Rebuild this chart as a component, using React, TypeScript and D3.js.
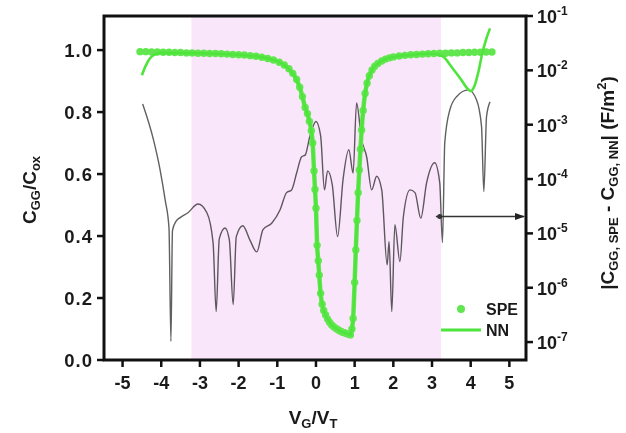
import React, { useRef, useEffect } from 'react'
import * as d3 from 'd3'

// SPE (simulated) gate capacitance, normalised
const speVg = [-4.55, -4.4, -4.25, -4.1, -3.95, -3.8, -3.65, -3.5, -3.35, -3.2, -3.05, -2.9, -2.75, -2.6, -2.45, -2.3, -2.15, -2.0, -1.85, -1.7, -1.55, -1.4, -1.25, -1.1, -0.95, -0.82, -0.7, -0.6, -0.5, -0.42, -0.35, -0.28, -0.22, -0.17, -0.12, -0.085, -0.05, -0.025, 0.0, 0.03, 0.06, 0.085, 0.12, 0.16, 0.2, 0.25, 0.3, 0.35, 0.4, 0.45, 0.5, 0.55, 0.6, 0.65, 0.7, 0.75, 0.8, 0.85, 0.89, 0.93, 0.96, 1.0, 1.03, 1.06, 1.09, 1.12, 1.15, 1.18, 1.22, 1.27, 1.32, 1.38, 1.45, 1.52, 1.6, 1.7, 1.8, 1.9, 2.0, 2.15, 2.3, 2.45, 2.6, 2.75, 2.9, 3.05, 3.2, 3.35, 3.5, 3.65, 3.8, 3.95, 4.1, 4.25, 4.4, 4.55]
const speCgg = [0.995, 0.995, 0.994, 0.994, 0.993, 0.993, 0.992, 0.992, 0.991, 0.991, 0.99, 0.99, 0.989, 0.989, 0.988, 0.987, 0.986, 0.985, 0.984, 0.982, 0.98, 0.977, 0.973, 0.968, 0.961, 0.952, 0.94, 0.925, 0.905, 0.88, 0.85, 0.815, 0.795, 0.77, 0.74, 0.7, 0.61, 0.55, 0.49, 0.37, 0.32, 0.274, 0.215, 0.18, 0.16, 0.145, 0.132, 0.122, 0.114, 0.108, 0.103, 0.099, 0.095, 0.092, 0.089, 0.087, 0.085, 0.083, 0.081, 0.1, 0.134, 0.25, 0.355, 0.45, 0.54, 0.613, 0.68, 0.742, 0.805, 0.86, 0.893, 0.917, 0.936, 0.948, 0.957, 0.965, 0.971, 0.975, 0.978, 0.981, 0.983, 0.985, 0.986, 0.987, 0.988, 0.989, 0.99, 0.99, 0.991, 0.991, 0.992, 0.992, 0.993, 0.993, 0.994, 0.994]

// NN prediction
const nnVg = [-4.5, -4.4, -4.3, -4.2, -4.0, -3.5, -3.0, -2.5, -2.0, -1.5, -1.1, -0.82, -0.6, -0.42, -0.28, -0.17, -0.085, -0.05, 0.0, 0.03, 0.085, 0.12, 0.16, 0.2, 0.3, 0.4, 0.5, 0.6, 0.7, 0.8, 0.89, 0.93, 0.96, 1.0, 1.03, 1.09, 1.15, 1.22, 1.32, 1.45, 1.6, 1.8, 2.0, 2.5, 3.0, 3.3, 3.45, 3.6, 3.75, 3.9, 4.0, 4.1, 4.2, 4.3, 4.4, 4.5]
const nnCgg = [0.919, 0.95, 0.972, 0.984, 0.991, 0.991, 0.99, 0.988, 0.985, 0.979, 0.968, 0.952, 0.925, 0.88, 0.815, 0.77, 0.7, 0.61, 0.49, 0.37, 0.274, 0.215, 0.18, 0.16, 0.132, 0.114, 0.103, 0.095, 0.089, 0.085, 0.081, 0.1, 0.134, 0.25, 0.355, 0.54, 0.68, 0.805, 0.893, 0.936, 0.957, 0.971, 0.978, 0.985, 0.989, 0.978, 0.955, 0.93, 0.905, 0.878, 0.868, 0.885, 0.93, 0.99, 1.035, 1.07]

// |C_GG,SPE - C_GG,NN| as log10 (F/m^2)
const errVg = [-4.48, -4.2, -4.03, -3.9, -3.8, -3.75, -3.71, -3.62, -3.51, -3.31, -3.05, -2.82, -2.66, -2.58, -2.5, -2.35, -2.24, -2.14, -2.06, -1.89, -1.71, -1.53, -1.37, -1.14, -0.93, -0.76, -0.63, -0.5, -0.37, -0.28, -0.16, 0.0, 0.12, 0.22, 0.3, 0.42, 0.56, 0.7, 0.85, 0.96, 1.05, 1.18, 1.31, 1.44, 1.57, 1.7, 1.84, 1.89, 1.96, 2.04, 2.17, 2.26, 2.43, 2.56, 2.71, 2.86, 3.07, 3.2, 3.27, 3.33, 3.46, 3.64, 3.94, 4.15, 4.28, 4.34, 4.41, 4.5]
const errLog10 = [-2.62, -3.28, -3.83, -4.38, -4.9, -6.99, -4.95, -4.78, -4.71, -4.62, -4.46, -4.62, -5.17, -6.44, -5.1, -4.9, -5.12, -6.31, -5.06, -4.86, -5.12, -5.34, -4.93, -4.81, -4.57, -4.25, -4.2, -3.89, -3.59, -3.56, -3.22, -2.94, -3.2, -4.2, -3.85, -4.1, -5.06, -4.01, -3.46, -3.89, -2.6, -3.28, -3.59, -4.2, -3.95, -4.2, -5.58, -5.15, -6.44, -4.84, -5.52, -4.69, -4.2, -4.25, -4.72, -4.07, -3.7, -4.07, -5.17, -3.33, -2.73, -2.48, -2.36, -2.54, -3.03, -4.23, -2.85, -2.58]

const xTicks = [-5, -4, -3, -2, -1, 0, 1, 2, 3, 4, 5]
const yLeftTicks = [0, 0.2, 0.4, 0.6, 0.8, 1.0]
const yRightExp = [-7, -6, -5, -4, -3, -2, -1]
const trainRange = [-3.22, 3.23]

const GREEN = '#4ee43c'
const SPE_GREEN = '#62e650'
const FONT = "'Liberation Sans', Arial, sans-serif"

const App = () => {
  const ref = useRef<SVGSVGElement>(null)

  useEffect(() => {
    const svg = d3.select(ref.current)
    svg.selectAll('*').remove()
    const L = 104, R = 526, T = 16, B = 360

    const x = d3.scaleLinear().domain([-5.48, 5.43]).range([L, R])
    const yL = d3.scaleLinear().domain([0, 1.11]).range([B, T])
    const yR = d3.scaleLog().domain([Math.pow(10, -7.33), 0.1]).range([B, T])

    svg.append('defs').append('marker')
      .attr('id', 'arr').attr('viewBox', '0 0 10 10').attr('refX', 9).attr('refY', 5)
      .attr('markerWidth', 7).attr('markerHeight', 7).attr('orient', 'auto')
      .append('path').attr('d', 'M0,1.5 L10,5 L0,8.5 z').attr('fill', '#222')

    // error curve (right axis)
    const errLine = d3.line<number>()
      .x((d, i) => x(errVg[i]))
      .y(d => yR(Math.pow(10, d)))
      .curve(d3.curveMonotoneX)
    svg.append('path')
      .attr('d', errLine(errLog10))
      .attr('fill', 'none').attr('stroke', '#606060').attr('stroke-width', 1.4)

    // training region
    svg.append('rect')
      .attr('x', x(trainRange[0])).attr('y', T)
      .attr('width', x(trainRange[1]) - x(trainRange[0])).attr('height', B - T)
      .attr('fill', '#fae6fa').style('mix-blend-mode', 'multiply')

    // arrow pointing at right axis
    const ay = yR(Math.pow(10, -4.69))
    svg.append('line')
      .attr('x1', x(3.1)).attr('x2', R - 2).attr('y1', ay).attr('y2', ay)
      .attr('stroke', '#333').attr('stroke-width', 1.5).attr('marker-end', 'url(#arr)')
    svg.append('circle').attr('cx', x(3.2)).attr('cy', ay).attr('r', 2.5).attr('fill', '#333')

    // SPE points: dense samples merge into a band
    const speLine = d3.line<number>()
      .x((d, i) => x(speVg[i]))
      .y(d => yL(d))
      .curve(d3.curveMonotoneX)
    svg.append('path')
      .attr('d', speLine(speCgg))
      .attr('fill', 'none').attr('stroke', SPE_GREEN).attr('stroke-width', 4.5)
      .attr('stroke-linecap', 'round')
    svg.append('g').selectAll('circle')
      .data(speCgg)
      .enter()
      .append('circle')
      .attr('cx', (d, i) => x(speVg[i]))
      .attr('cy', d => yL(d))
      .attr('r', 3.7)
      .attr('fill', SPE_GREEN)

    // NN line
    const nnLine = d3.line<number>()
      .x((d, i) => x(nnVg[i]))
      .y(d => yL(d))
      .curve(d3.curveMonotoneX)
    svg.append('path')
      .attr('d', nnLine(nnCgg))
      .attr('fill', 'none').attr('stroke', GREEN).attr('stroke-width', 2.6)

    // frame
    svg.append('rect')
      .attr('x', L).attr('y', T).attr('width', R - L).attr('height', B - T)
      .attr('fill', 'none').attr('stroke', '#111').attr('stroke-width', 3)

    const txt = (sel: any) => sel.attr('font-family', FONT).attr('font-weight', 'bold').attr('fill', '#1a1a1a')

    // bottom axis
    const gx = svg.append('g')
    xTicks.forEach(t => {
      gx.append('line').attr('x1', x(t)).attr('x2', x(t)).attr('y1', B).attr('y2', B + 7)
        .attr('stroke', '#111').attr('stroke-width', 2.5)
      txt(gx.append('text')).attr('x', x(t)).attr('y', B + 29).attr('text-anchor', 'middle')
        .attr('font-size', 18).text(String(t))
    })

    // left axis
    const gl = svg.append('g')
    yLeftTicks.forEach(t => {
      gl.append('line').attr('x1', L - 7).attr('x2', L).attr('y1', yL(t)).attr('y2', yL(t))
        .attr('stroke', '#111').attr('stroke-width', 2.5)
      txt(gl.append('text')).attr('x', L - 11).attr('y', yL(t) + 6.5).attr('text-anchor', 'end')
        .attr('font-size', 18.5).attr('letter-spacing', 1).text(d3.format('.1f')(t))
    })

    // right axis (log)
    const gr = svg.append('g')
    yRightExp.forEach(e => {
      const yy = yR(Math.pow(10, e))
      gr.append('line').attr('x1', R).attr('x2', R + 7).attr('y1', yy).attr('y2', yy)
        .attr('stroke', '#111').attr('stroke-width', 2.5)
      const t = txt(gr.append('text')).attr('x', R + 11).attr('y', yy + 7).attr('font-size', 18)
      t.append('tspan').text('10')
      t.append('tspan').attr('dy', -8).attr('font-size', 12).text('-' + Math.abs(e))
    })

    // titles
    const xt = txt(svg.append('text')).attr('x', 313).attr('y', 424).attr('text-anchor', 'middle').attr('font-size', 19)
    xt.append('tspan').text('V')
    xt.append('tspan').attr('dy', 4).attr('font-size', 13).text('G')
    xt.append('tspan').attr('dy', -4).text('/V')
    xt.append('tspan').attr('dy', 4).attr('font-size', 13).text('T')

    const lt = txt(svg.append('text')).attr('transform', 'translate(36,190) rotate(-90)')
      .attr('text-anchor', 'middle').attr('font-size', 19)
    lt.append('tspan').text('C')
    lt.append('tspan').attr('dy', 4).attr('font-size', 13).text('GG')
    lt.append('tspan').attr('dy', -4).text('/C')
    lt.append('tspan').attr('dy', 4).attr('font-size', 13).text('ox')

    const rt = txt(svg.append('text')).attr('transform', 'translate(614,183) rotate(-90)')
      .attr('text-anchor', 'middle').attr('font-size', 19)
    rt.append('tspan').text('|C')
    rt.append('tspan').attr('dy', 4).attr('font-size', 13).text('GG, SPE')
    rt.append('tspan').attr('dy', -4).text(' - C')
    rt.append('tspan').attr('dy', 4).attr('font-size', 13).text('GG, NN')
    rt.append('tspan').attr('dy', -4).text('| (F/m')
    rt.append('tspan').attr('dy', -8).attr('font-size', 13).text('2')
    rt.append('tspan').attr('dy', 8).text(')')

    // legend
    svg.append('circle').attr('cx', 461).attr('cy', 309).attr('r', 4).attr('fill', SPE_GREEN)
    txt(svg.append('text')).attr('x', 486).attr('y', 315).attr('font-size', 16).text('SPE')
    svg.append('line').attr('x1', 441).attr('x2', 481).attr('y1', 330).attr('y2', 330)
      .attr('stroke', GREEN).attr('stroke-width', 3)
    txt(svg.append('text')).attr('x', 486).attr('y', 336).attr('font-size', 16).text('NN')
  }, [])

  return (
    <svg ref={ref} width={626} height={433} style={{ position: 'absolute', left: 0, top: 0, background: '#fff' }} />
  )
}

export default App
